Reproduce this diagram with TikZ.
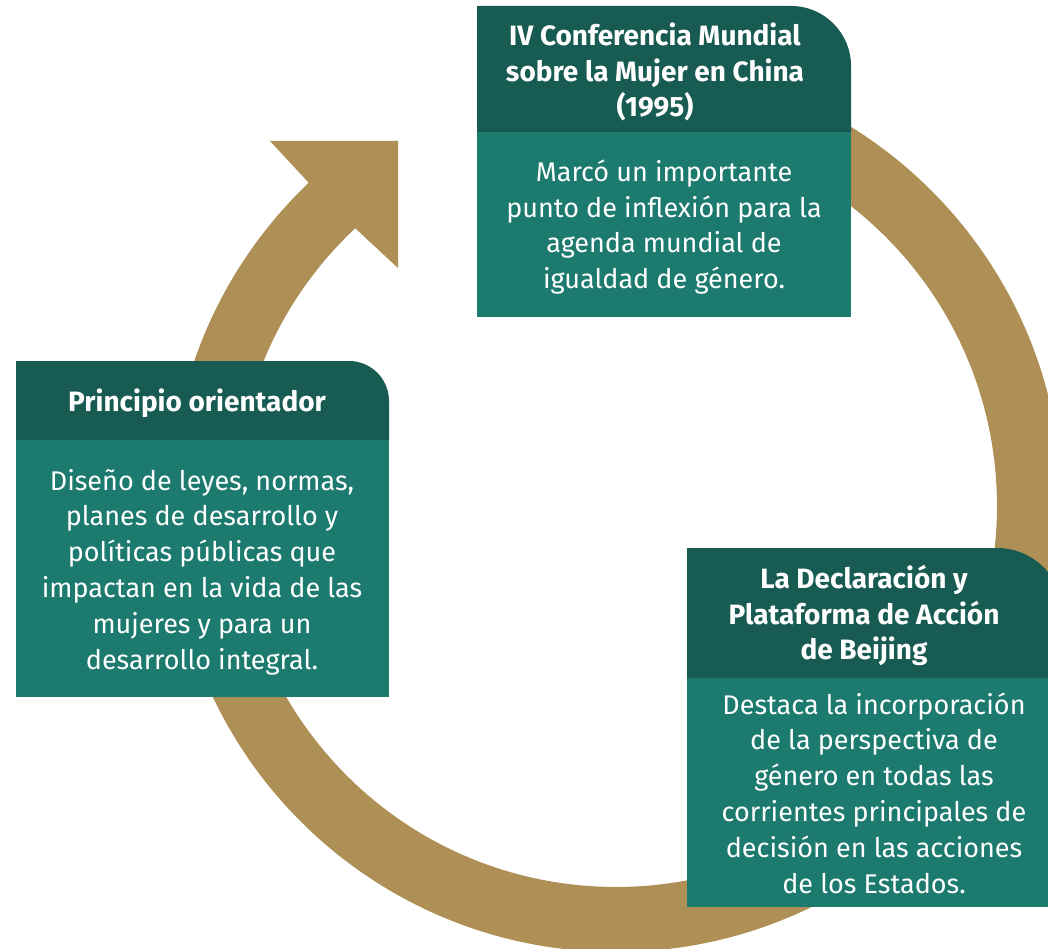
\documentclass[tikz,border=0pt]{standalone}
\usepackage{fontspec}
\setmainfont{Fira Sans}
\usetikzlibrary{calc}
\definecolor{gold}{HTML}{AE8F55}
\definecolor{hdr}{HTML}{175B52}
\definecolor{bodyc}{HTML}{1C7A6E}
\begin{document}
\begin{tikzpicture}[x=1pt,y=-1pt,
  hdrtext/.style={text=white,font=\fontsize{28}{35.7}\selectfont\bfseries,align=center,inner sep=0pt},
  bodytext/.style={text=white,font=\fontsize{27}{35.8}\selectfont,align=center,inner sep=0pt}]
\useasboundingbox (0,0) rectangle (1048,949);
\clip (0,0) rectangle (1048,949);
\coordinate (C) at (616,506);
% ring arrow
\fill[gold] ($(C)+(-90:446)$) arc[start angle=-90,end angle=226.45,radius=446]
  -- (270,141) -- (398,141) -- (398,268)
  -- ($(C)+(226.8:381)$) arc[start angle=226.8,end angle=-90,radius=381] -- cycle;
% top box
\fill[hdr] (477,132) -- (477,6) -- (791,6) arc[start angle=-90,end angle=0,radius=60] -- (851,132) -- cycle;
\fill[bodyc] (477,132) rectangle (851,317);
% left box
\fill[hdr] (16,440) -- (16,361) -- (349,361) arc[start angle=-90,end angle=0,radius=40] -- (389,440) -- cycle;
\fill[bodyc] (16,440) rectangle (389,697);
% bottom box
\fill[hdr] (687,678) -- (687,548) -- (997,548) arc[start angle=-90,end angle=0,radius=66] -- (1063,678) -- cycle;
\fill[bodyc] (687,678) rectangle (1063,907);
% texts
\node[hdrtext] (t1h) at (655,72) {IV Conferencia Mundial\\sobre la Mujer en China\\(1995)};
\node[bodytext] (t1b) at (664,227) {Marcó un importante\\punto de inflexión para la\\agenda mundial de\\igualdad de género.};
\node[hdrtext] (t2h) at (197,403) {Principio orientador};
\node[bodytext] (t2b) at (202,572) {Diseño de leyes, normas,\\planes de desarrollo y\\políticas públicas que\\impactan en la vida de las\\mujeres y para un\\desarrollo integral.};
\node[hdrtext] (t3h) at (864,615.5) {La Declaración y\\Plataforma de Acción\\de Beijing};
\node[bodytext] (t3b) at (874,793) {Destaca la incorporación\\de la perspectiva de\\género en todas las\\corrientes principales de\\decisión en las acciones\\de los Estados.};
\end{tikzpicture}
\end{document}
